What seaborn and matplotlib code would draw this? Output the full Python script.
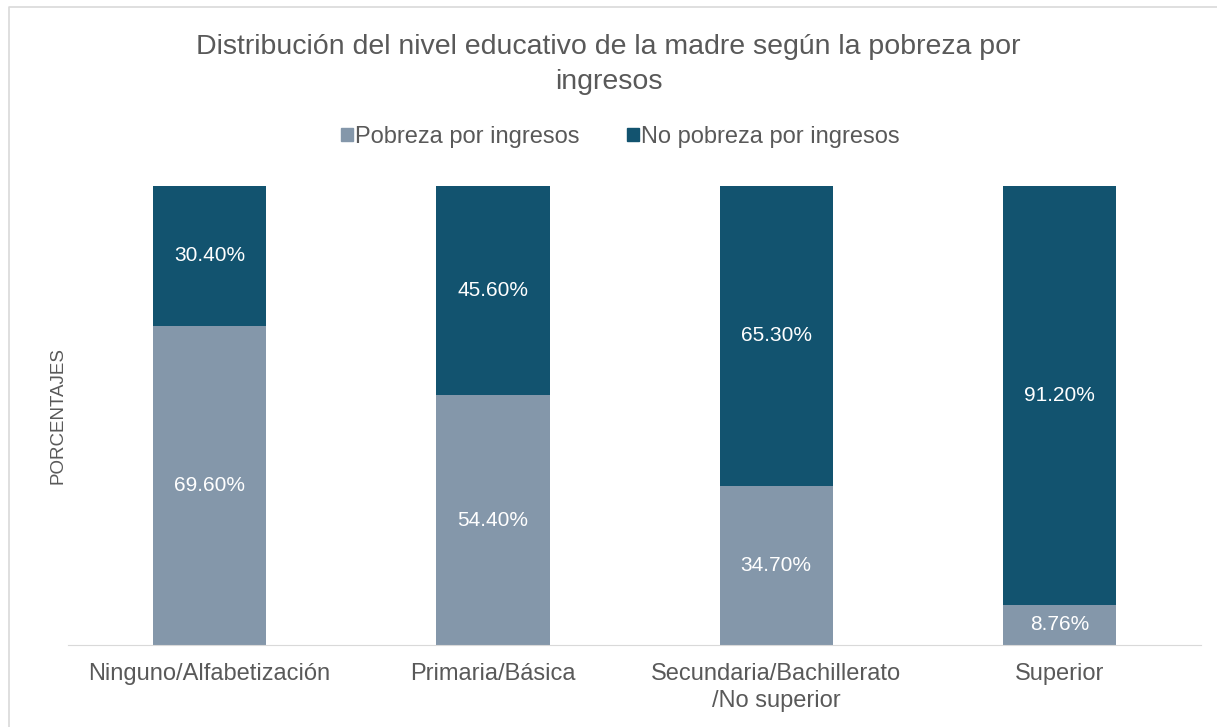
import seaborn as sns
import matplotlib.pyplot as plt
import pandas as pd
from matplotlib.lines import Line2D
from matplotlib.patches import Patch

categorias = ['Ninguno/Alfabetización', 'Primaria/Básica',
              'Secundaria/Bachillerato\n/No superior', 'Superior']
pobreza = [69.6, 54.4, 34.7, 8.76]
no_pobreza = [30.4, 45.6, 65.3, 91.2]
etiquetas_pobreza = ['69.60%', '54.40%', '34.70%', '8.76%']
etiquetas_no_pobreza = ['30.40%', '45.60%', '65.30%', '91.20%']

color_pob = '#8497AA'
color_nopob = '#12536F'
gris_texto = '#595959'

sns.set_style('white')
plt.rcParams['font.family'] = ['Liberation Sans', 'DejaVu Sans']

df = pd.DataFrame({'cat': categorias, 'pob': pobreza,
                   'total': [p + n for p, n in zip(pobreza, no_pobreza)]})

fig = plt.figure(figsize=(12.17, 7.27), dpi=100)
ax = fig.add_axes([0.0559, 0.1128, 0.931, 0.6313])

# barra total (oscura) y encima la parte de pobreza
sns.barplot(data=df, x='cat', y='total', color=color_nopob, width=0.4,
            saturation=1, linewidth=0, ax=ax)
sns.barplot(data=df, x='cat', y='pob', color=color_pob, width=0.4,
            saturation=1, linewidth=0, ax=ax)

for i in range(len(categorias)):
    ax.text(i, pobreza[i] / 2, etiquetas_pobreza[i], ha='center', va='center',
            color='white', fontsize=15)
    ax.text(i, pobreza[i] + no_pobreza[i] / 2, etiquetas_no_pobreza[i],
            ha='center', va='center', color='white', fontsize=15)

ax.set_ylim(0, 100)
ax.set_xlim(-0.5, 3.5)
ax.set_yticks([])
ax.set_xlabel('')
ax.set_ylabel('PORCENTAJES', fontsize=13.5, color=gris_texto, labelpad=1)
ax.tick_params(axis='x', length=0, labelsize=17, labelcolor=gris_texto, pad=13)
for lbl in ax.get_xticklabels():
    lbl.set_linespacing(1.3)
for s in ['top', 'right', 'left']:
    ax.spines[s].set_visible(False)
ax.spines['bottom'].set_color('#D9D9D9')

fig.text(0.5, 0.911, 'Distribución del nivel educativo de la madre según la pobreza por\ningresos',
         ha='center', va='center', fontsize=20.5, color=gris_texto, linespacing=1.45)

handles = [Patch(color=color_pob, label='Pobreza por ingresos'),
           Patch(color=color_nopob, label='No pobreza por ingresos')]
fig.legend(handles=handles, loc='center', bbox_to_anchor=(0.51, 0.812), ncol=2,
           frameon=False, fontsize=17, handlelength=0.5, handleheight=0.5,
           handletextpad=0.1, columnspacing=2.0, labelcolor=gris_texto)

# marco del grafico
fig.lines.append(Line2D([0.0074, 0.0074, 1.0], [0.0, 0.990, 0.990],
                        transform=fig.transFigure, color='#D9D9D9', linewidth=1.2))

plt.savefig('out.png', dpi=100)
